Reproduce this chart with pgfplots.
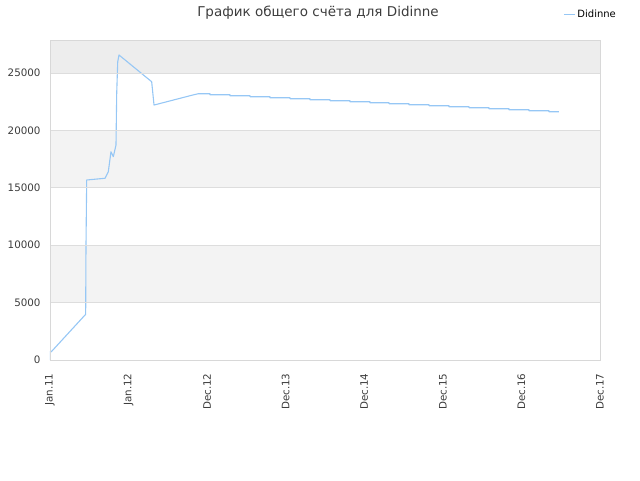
\documentclass[border=0pt]{standalone}
\usepackage{fontspec}
\setmainfont{DejaVu Sans}
\usepackage{pgfplots}
\pgfplotsset{compat=1.18}
\definecolor{lineblue}{RGB}{150,199,245}
\definecolor{bandgrey}{RGB}{243,243,243}
\definecolor{topgrey}{RGB}{237,237,237}
\definecolor{gridgrey}{RGB}{221,221,221}
\definecolor{framegrey}{RGB}{216,216,216}
\definecolor{txt}{RGB}{60,60,60}

\begin{document}
\begin{tikzpicture}[x=1pt,y=1pt]
  \useasboundingbox (-50,-120) rectangle (590,360);
  \begin{axis}[
      at={(0,0)}, anchor=south west,
      axis on top,
      scale only axis, width=550pt, height=320pt,
      xmin=0, xmax=7, ymin=0, ymax=27875,
      axis line style={framegrey},
      xtick={0,1,2,3,4,5,6,7},
      xticklabels={Jan.11,Jan.12,Dec.12,Dec.13,Dec.14,Dec.15,Dec.16,Dec.17},
      ytick={0,5000,10000,15000,20000,25000},
      scaled ticks=false,
      /pgf/number format/1000 sep={},
      /pgf/number format/assume math mode=true,
      major tick length=0pt,
      ymajorgrids, major grid style={gridgrey, line width=0.8pt},
      tick label style={font=\fontsize{10.3}{12}\selectfont, text=txt},
      xticklabel style={rotate=90, anchor=east, xshift=-10pt},
      yticklabel style={xshift=-6pt},
      legend style={at={(axis description cs:0.933,1.081)}, anchor=west,
        draw=none, fill=none, inner sep=0pt,
        font=\fontsize{10}{12}\selectfont, text=black},
      legend image code/.code={\draw[#1] (0pt,0pt) -- (11pt,0pt);},
    ]
    % alternating background bands
    \fill[bandgrey] (axis cs:0,5000) rectangle (axis cs:7,10000);
    \fill[bandgrey] (axis cs:0,15000) rectangle (axis cs:7,20000);
    \fill[topgrey] (axis cs:0,25000) rectangle (axis cs:7,27875);

    \addplot[lineblue, line width=1.1pt, line join=round] coordinates {
      (0.000,0) (0.000,723) (0.017,723) (0.454,3980) (0.458,9870)
      (0.467,15680) (0.700,15830) (0.742,16400) (0.776,18140)
      (0.806,17710) (0.840,18730) (0.849,23230) (0.862,25980)
      (0.878,26570) (1.294,24240) (1.324,22210) (1.782,23020)
      (1.833,23107) (1.887,23195)
      (2.036,23195) (2.036,23107) (2.291,23107) (2.291,23020)
      (2.546,23020) (2.546,22933) (2.800,22933) (2.800,22846)
      (3.055,22846) (3.055,22759) (3.309,22759) (3.309,22672)
      (3.564,22672) (3.564,22585) (3.818,22585) (3.818,22498)
      (4.073,22498) (4.073,22411) (4.315,22411) (4.315,22324)
      (4.569,22324) (4.569,22237) (4.824,22237) (4.824,22150)
      (5.078,22150) (5.078,22063) (5.333,22063) (5.333,21976)
      (5.587,21976) (5.587,21889) (5.842,21889) (5.842,21802)
      (6.096,21802) (6.096,21715) (6.351,21715) (6.351,21627)
      (6.478,21627)
    };
    \addlegendentry{Didinne}
  \end{axis}
  \node[text=txt, font=\fontsize{13.5}{16}\selectfont] at (268,347) {График общего счёта для Didinne};
\end{tikzpicture}
\end{document}
